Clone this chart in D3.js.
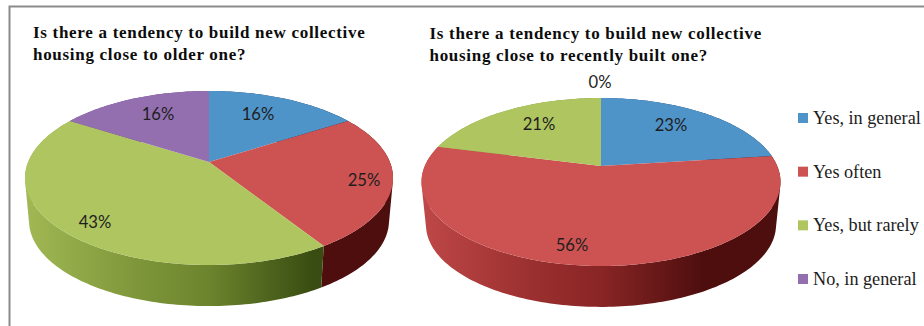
<!DOCTYPE html>
<html>
<head>
<meta charset="utf-8">
<script src="https://cdn.jsdelivr.net/npm/d3@7/dist/d3.min.js"></script>
<style>
  html, body { margin: 0; padding: 0; background: #fff; }
  svg { display: block; }
  .title { font: bold 17px "Liberation Serif", serif; fill: #0c0c0c; letter-spacing: 0.7px; }
  .legend { font: 18.2px "Liberation Serif", serif; fill: #1c1c1c; }
  .value { font: 16.6px Lato, sans-serif; fill: #1e1e1e; text-anchor: middle; }
</style>
</head>
<body>
<svg id="chart" width="924" height="326"></svg>
<script>
// Survey answers and their colours
const categories = ["Yes, in general", "Yes often", "Yes, but rarely", "No, in general"];
const colors = ["#4f94c9", "#cc5352", "#afc560", "#946fb0"];
const olderHousing = [16, 25, 43, 16];
const recentHousing = [23, 56, 21, 0];
const olderTitle = ["Is there a tendency to build new collective", "housing close to older one?"];
const recentTitle = ["Is there a tendency to build new collective", "housing close to recently built one?"];

// Layout of the two tilted discs and their percentage labels
const olderLayout = {
  id: "older", cx: 209, cy: 178, rx: 184, ry: 87, apexShift: 16, depth: 43, baseScale: 0.978,
  titleX: 33, titleY: [37.5, 59.5],
  labels: [[258, 120], [364, 186], [95, 228], [158, 120]]
};
const recentLayout = {
  id: "recent", cx: 601, cy: 182, rx: 179.5, ry: 84, apexShift: 16, depth: 43, baseScale: 0.975,
  titleX: 429.5, titleY: [38.5, 60.5],
  labels: [[671, 131], [572, 251], [539, 130], [600, 87.5]]
};

// Lighting across the side wall: brightness of the slice colour by x position
const wallShade = [[0, 0.93], [0.3, 0.76], [0.5, 0.66], [0.78, 0.37], [1, 0.36]];

const svg = d3.select("#chart");
const defs = svg.append("defs");

// Frame along the top and left edges
svg.append("path")
  .attr("d", d3.line()([[9.5, 326], [9.5, 6.5], [924, 6.5]]))
  .attr("fill", "none").attr("stroke", "#8b8b8b").attr("stroke-width", 2);

// Perspective mapping from the flat unit disc to the screen
function projector(p) {
  const k = -p.apexShift / p.ry;
  const a = p.rx * Math.sqrt(1 - k * k);
  return (u, v, scale = 1, drop = 0) => {
    const w = 1 + k * v;
    return [
      p.cx + scale * a * u / w,
      p.cy + drop + scale * (p.ry * v - p.apexShift) / w
    ];
  };
}

function arcAngles(start, end) {
  const n = Math.max(2, Math.ceil((end - start) / 0.02));
  return d3.range(n + 1).map(i => start + (end - start) * i / n);
}

// Darkens a colour while keeping its dominant channel strongest, so shadows stay saturated
function shaded(color, f) {
  const c = d3.rgb(color);
  const top = Math.max(c.r, c.g, c.b);
  const channel = v => v * Math.pow(f, 1 + 1.8 * (1 - v / top)) + 6 * (1 - f);
  return d3.rgb(channel(c.r), channel(c.g), channel(c.b)).formatHex();
}

function drawPie(p, values, title) {
  const project = projector(p);
  const slices = d3.pie().sort(null)(values);
  const line = d3.line();
  const onRim = (t, scale, drop) => project(Math.sin(t), -Math.cos(t), scale, drop);
  const g = svg.append("g").attr("class", "pie-" + p.id);

  // Side wall gradient for each slice
  colors.forEach((c, i) => {
    const grad = defs.append("linearGradient")
      .attr("id", `wall-${p.id}-${i}`)
      .attr("gradientUnits", "userSpaceOnUse")
      .attr("x1", p.cx - p.rx).attr("x2", p.cx + p.rx)
      .attr("y1", 0).attr("y2", 0);
    wallShade.forEach(([offset, f]) => {
      grad.append("stop").attr("offset", offset).attr("stop-color", shaded(c, f));
    });
  });

  // Side walls built from ruled quads, all wound the same way so folded quads never cancel
  g.selectAll("path.wall").data(slices).join("path")
    .attr("class", "wall")
    .attr("fill", (d, i) => `url(#wall-${p.id}-${i})`)
    .attr("d", d => {
      if (d.endAngle - d.startAngle < 1e-6) return null;
      return d3.pairs(arcAngles(d.startAngle, d.endAngle)).map(([t0, t1]) => {
        const quad = [onRim(t0, 1, 0), onRim(t1, 1, 0), onRim(t1, p.baseScale, p.depth), onRim(t0, p.baseScale, p.depth)];
        if (d3.polygonArea(quad) < 0) quad.reverse();
        return line(quad) + "Z";
      }).join("");
    });

  // Top face
  g.selectAll("path.top").data(slices).join("path")
    .attr("class", "top")
    .attr("fill", (d, i) => colors[i])
    .attr("d", d => {
      if (d.endAngle - d.startAngle < 1e-6) return null;
      const rim = arcAngles(d.startAngle, d.endAngle).map(t => onRim(t, 1, 0));
      return line([project(0, 0)].concat(rim)) + "Z";
    });

  // Percentage labels
  g.selectAll("text.value").data(slices).join("text")
    .attr("class", "value")
    .attr("x", (d, i) => p.labels[i][0])
    .attr("y", (d, i) => p.labels[i][1])
    .text(d => d.value + "%");

  // Two-line heading
  svg.append("g").selectAll("text").data(title).join("text")
    .attr("class", "title")
    .attr("x", p.titleX)
    .attr("y", (d, i) => p.titleY[i])
    .text(d => d);
}

drawPie(olderLayout, olderHousing, olderTitle);
drawPie(recentLayout, recentHousing, recentTitle);

// Legend
const legendY = d3.scalePoint().domain(categories).range([118, 279]);
const legend = svg.append("g").selectAll("g").data(categories).join("g")
  .attr("transform", d => `translate(798,${legendY(d)})`);
legend.append("rect")
  .attr("x", 0).attr("y", -5).attr("width", 10).attr("height", 10)
  .attr("fill", (d, i) => colors[i]);
legend.append("text")
  .attr("class", "legend")
  .attr("x", 15).attr("y", 6)
  .text(d => d);
</script>
</body>
</html>
